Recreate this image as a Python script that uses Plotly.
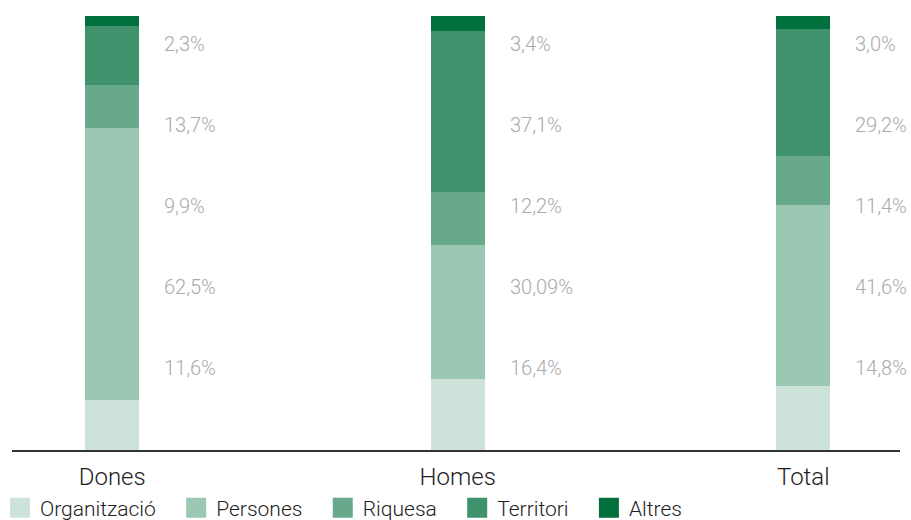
import plotly.graph_objects as go

categories = ["Dones", "Homes", "Total"]
series_names = ["Organització", "Persones", "Riquesa", "Territori", "Altres"]
organitzacio = [11.6, 16.4, 14.8]
persones = [62.5, 30.9, 41.6]
riquesa = [9.9, 12.2, 11.4]
territori = [13.7, 37.1, 29.2]
altres = [2.3, 3.4, 3.0]
label_texts = {
    "Organització": ["11,6%", "16,4%", "14,8%"],
    "Persones": ["62,5%", "30,09%", "41,6%"],
    "Riquesa": ["9,9%", "12,2%", "11,4%"],
    "Territori": ["13,7%", "37,1%", "29,2%"],
    "Altres": ["2,3%", "3,4%", "3,0%"],
}
series_values = [organitzacio, persones, riquesa, territori, altres]
colors = ["#cde3da", "#9ac8b2", "#67a98a", "#3f926c", "#00703c"]

FONT = "Roboto"
PAD = "\u00a0\u00a0\u00a0"
fig = go.Figure()
for name, vals, col in zip(series_names, series_values, colors):
    fig.add_trace(go.Bar(
        x=categories, y=vals, name=name, marker=dict(color=col, line=dict(width=0)),
        width=0.156, showlegend=False, hoverinfo="skip"))
for name, col in zip(series_names, colors):
    fig.add_trace(go.Scatter(
        x=[None], y=[None], mode="markers", name=name + PAD,
        marker=dict(symbol="square", size=16, color=col, line=dict(width=4, color=col))))

annotations = []
for i, name in enumerate(series_names):
    slot_y = 19 + i * 18.65
    for cat, txt in zip(categories, label_texts[name]):
        annotations.append(dict(
            x=cat, y=slot_y, xref="x", yref="y", text=txt, showarrow=False,
            xanchor="left", yanchor="middle", xshift=50,
            font=dict(family=FONT, size=20, color="#aaaaaa", weight=300)))

fig.update_layout(
    barmode="stack",
    width=911, height=520,
    margin=dict(l=12, r=11, t=16, b=70, autoexpand=False),
    plot_bgcolor="white", paper_bgcolor="white",
    annotations=annotations,
    font=dict(family=FONT, color="#222222", weight=300),
    xaxis=dict(type="category", range=[-0.29, 2.28], showline=True, linecolor="#333333",
               linewidth=1.5, layer="below traces", ticks="", showgrid=False,
               ticklabelstandoff=4,
               tickfont=dict(size=24, color="#222222", family=FONT, weight=300)),
    yaxis=dict(range=[0, 100], visible=False, showgrid=False, zeroline=False),
    legend=dict(orientation="h", xref="container", yref="paper", x=-3 / 911, y=-58 / 434,
                xanchor="left", yanchor="middle", traceorder="normal",
                bgcolor="rgba(0,0,0,0)",
                font=dict(size=21, color="#222222", family=FONT, weight=300),
                itemclick=False),
)
fig.write_html("out.html", config={"displayModeBar": False},
               post_script="document.body.style.margin='0';document.body.style.padding='0';")
